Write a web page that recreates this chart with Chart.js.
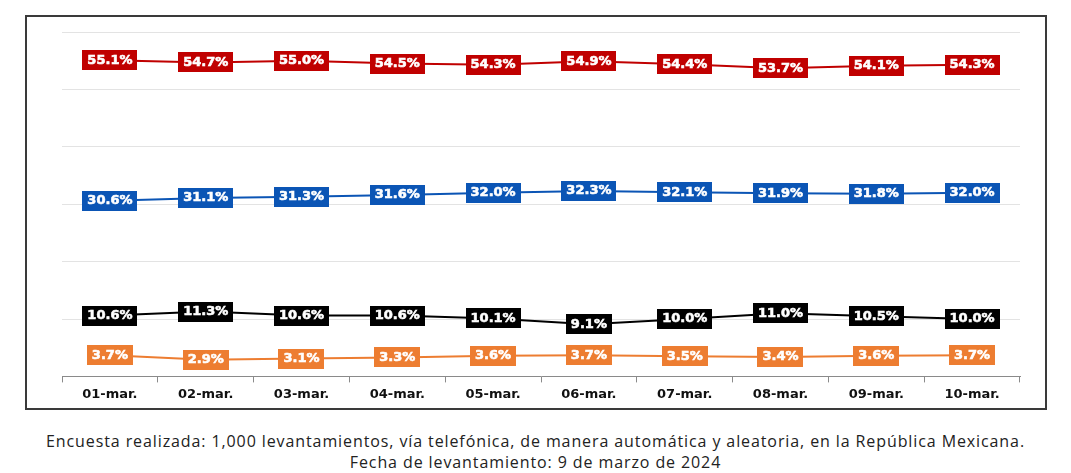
<!DOCTYPE html>
<html>
<head>
<meta charset="utf-8">
<script src="https://cdn.jsdelivr.net/npm/chart.js@4"></script>
<style>
  html, body { margin: 0; padding: 0; background: #fff; }
  body { width: 1071px; height: 473px; position: relative; overflow: hidden; }
  #box {
    position: absolute; left: 25px; top: 15px; width: 1018px; height: 391px;
    border: 2px solid #3a3a3a;
  }
  #caption {
    position: absolute; left: 0; top: 431px; width: 1071px; text-align: center;
    font-family: "Open Sans", sans-serif; font-weight: 400; letter-spacing: 0.9px;
    font-size: 16px; line-height: 21px; color: #222;
  }
</style>
</head>
<body>
<div id="box"><canvas id="chart" width="1018" height="391"></canvas></div>
<div id="caption">Encuesta realizada: 1,000 levantamientos, vía telefónica, de manera automática y aleatoria, en la República Mexicana.<br>Fecha de levantamiento: 9 de marzo de 2024</div>
<script>
// dates
const days = ["01-mar.", "02-mar.", "03-mar.", "04-mar.", "05-mar.", "06-mar.", "07-mar.", "08-mar.", "09-mar.", "10-mar."];

// series (%)
const redSeries = [55.1, 54.7, 55.0, 54.5, 54.3, 54.9, 54.4, 53.7, 54.1, 54.3];
const blueSeries = [30.6, 31.1, 31.3, 31.6, 32.0, 32.3, 32.1, 31.9, 31.8, 32.0];
const blackSeries = [10.6, 11.3, 10.6, 10.6, 10.1, 9.1, 10.0, 11.0, 10.5, 10.0];
const orangeSeries = [3.7, 2.9, 3.1, 3.3, 3.6, 3.7, 3.5, 3.4, 3.6, 3.7];

const colors = ["#c00000", "#0b55b5", "#000000", "#ed7d31"];

// boxed value labels on every point
const boxLabels = {
  id: "boxLabels",
  afterDatasetsDraw(chart) {
    const c = chart.ctx;
    c.save();
    c.font = "bold 13px 'DejaVu Sans'";
    c.textAlign = "center";
    c.textBaseline = "middle";
    c.lineWidth = 0.6;
    chart.data.datasets.forEach((ds, i) => {
      const meta = chart.getDatasetMeta(i);
      meta.data.forEach((pt, j) => {
        const txt = ds.data[j].toFixed(1) + "%";
        const w = c.measureText(txt).width + 10;
        const h = 20;
        c.fillStyle = ds.borderColor;
        c.fillRect(Math.round(pt.x - w / 2), Math.round(pt.y - h / 2), Math.round(w), h);
        c.fillStyle = "#fff";
        c.strokeStyle = "#fff";
        c.fillText(txt, pt.x, pt.y);
        c.strokeText(txt, pt.x, pt.y);
      });
    });
    c.restore();
  }
};

const ctx = document.getElementById("chart").getContext("2d");
new Chart(ctx, {
  type: "line",
  data: {
    labels: days,
    datasets: [redSeries, blueSeries, blackSeries, orangeSeries].map((d, i) => ({
      data: d,
      borderColor: colors[i],
      backgroundColor: colors[i],
      borderWidth: 2,
      pointRadius: 0,
      tension: 0
    }))
  },
  options: {
    responsive: false,
    animation: false,
    layout: { padding: { left: 35, right: 25, top: 15, bottom: 2 } },
    plugins: { legend: { display: false }, tooltip: { enabled: false } },
    scales: {
      x: {
        offset: true,
        grid: { offset: true, drawOnChartArea: false, color: "#8a8a8a", tickLength: 6 },
        border: { color: "#8a8a8a", width: 1 },
        ticks: { color: "#111", font: { family: "DejaVu Sans", size: 13, weight: "bold" }, padding: 4 }
      },
      y: {
        min: 0, max: 60,
        ticks: { display: false, stepSize: 10 },
        grid: { color: "#e3e3e3", drawTicks: false },
        border: { display: false }
      }
    }
  },
  plugins: [boxLabels]
});
</script>
</body>
</html>
